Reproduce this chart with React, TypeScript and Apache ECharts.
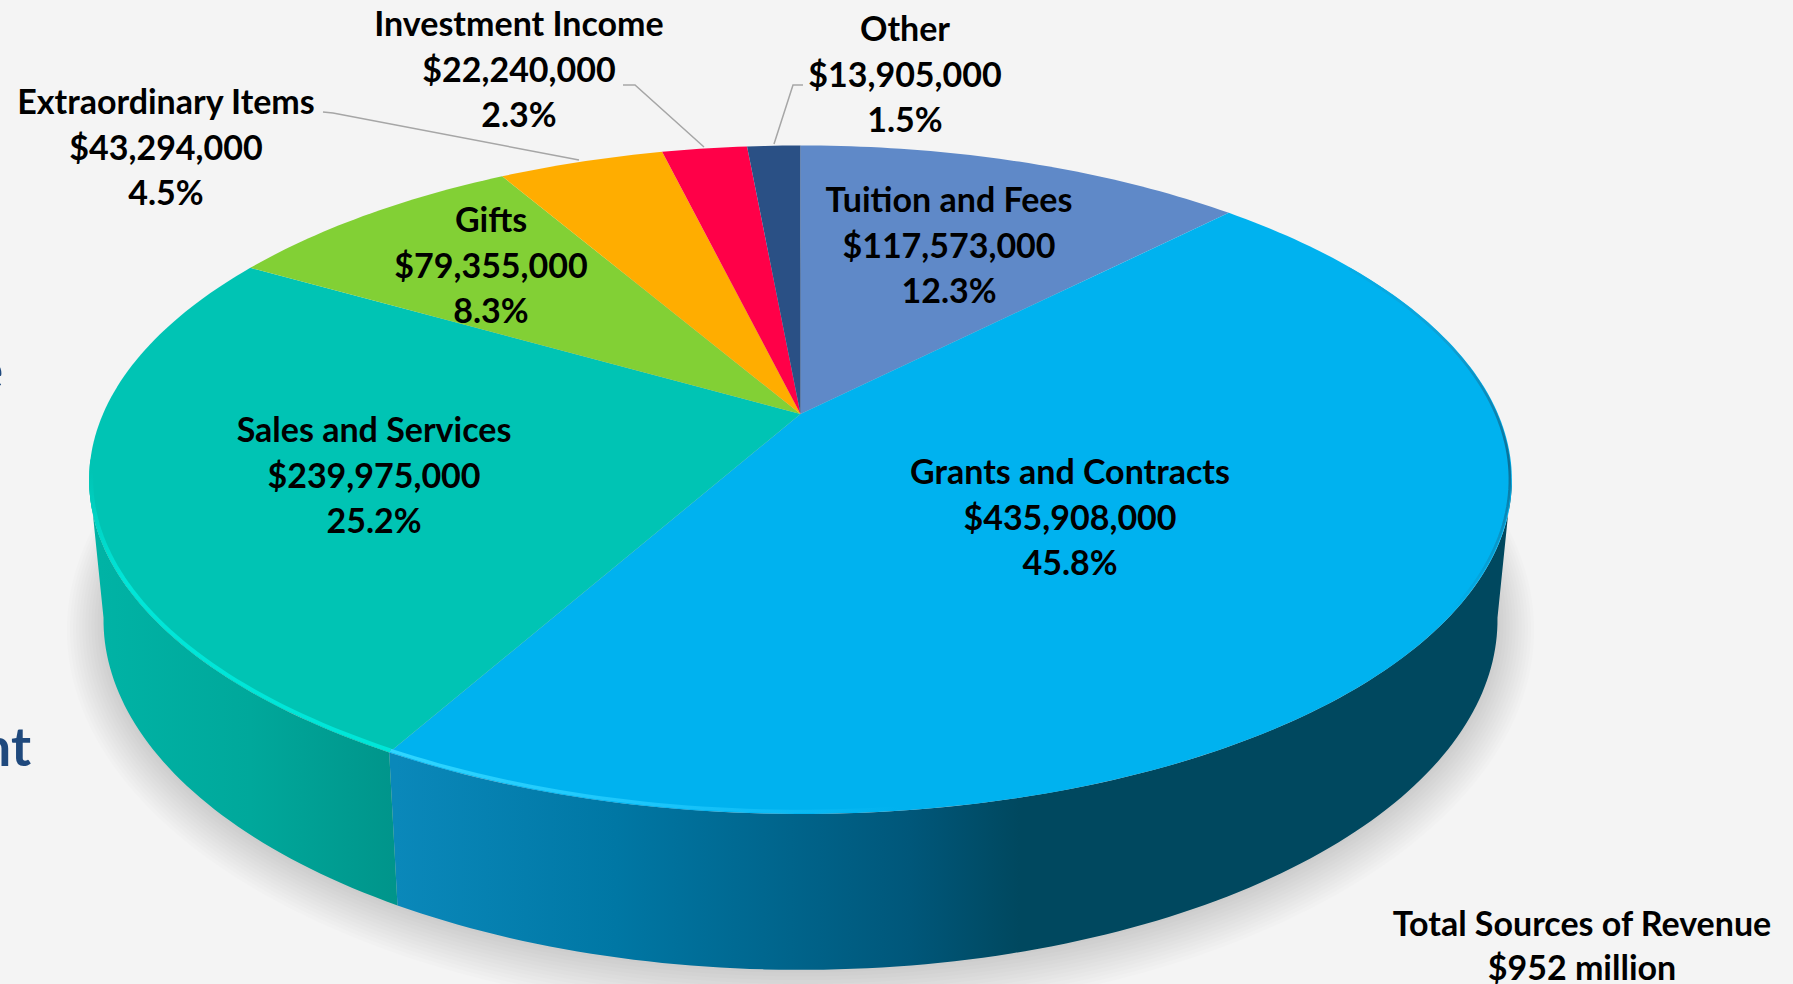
import React, { useEffect, useRef } from "react";
import * as echarts from "echarts";

const categories = ["Tuition and Fees", "Grants and Contracts", "Sales and Services", "Gifts", "Extraordinary Items", "Investment Income", "Other"];
const revenues = [117573000, 435908000, 239975000, 79355000, 43294000, 22240000, 13905000];
const percentLabels = ["12.3%", "45.8%", "25.2%", "8.3%", "4.5%", "2.3%", "1.5%"];
const sliceColors = ["#5f89c8", "#00b2ef", "#00c4b4", "#82d035", "#ffad00", "#ff0048", "#2a5085"];
const totalLines = ["Total Sources of Revenue", "$952 million"];

const labelCenters = [[949, 244], [1070, 516], [374, 474], [491, 264], [166, 146], [519, 68], [905, 73]];
const leaderLines = [
  null, null, null, null,
  [[323, 112], [333, 113], [579, 160]],
  [[623, 85], [635, 85], [704, 147]],
  [[803, 85], [793, 85], [774, 144]],
];

const W = 1793, H = 984;
const K = 0.1966;
const TOP = { cx: 800.5, cy: 414, a: 697.5, b: 321.3 };
const TOP_INSET = { cx: 800.5, cy: 414, a: 695.5, b: 319.3 };
const BASE = { cx: 800.5, cy: 551, a: 683.4, b: 336.5 };
const WALL_FROM = 101, WALL_TO = 259;
const SHADOW_LAYERS = [36, 33, 30, 27, 24, 21, 18, 15, 12, 9, 6, 3, 0];

const total = revenues.reduce((s, v) => s + v, 0);
const boundaries = revenues.reduce<number[]>((acc, v) => [...acc, acc[acc.length - 1] + (v / total) * 360], [0]);

function project(p: typeof TOP, deg: number): number[] {
  const r = (deg * Math.PI) / 180;
  const u = Math.sin(r), v = -Math.cos(r);
  const w = 1 - K * v;
  return [p.cx + (p.a * u) / w, p.cy + (p.b * v) / w];
}
function arc(p: typeof TOP, from: number, to: number): number[][] {
  const n = Math.max(2, Math.ceil(Math.abs(to - from)));
  const out: number[][] = [];
  for (let i = 0; i <= n; i++) out.push(project(p, from + ((to - from) * i) / n));
  return out;
}
const hGrad = (x: number, x2: number, stops: [number, string][]) => ({
  type: "linear", x, y: 0, x2, y2: 0, global: true,
  colorStops: stops.map(([offset, color]) => ({ offset, color })),
});
const vGrad = (y: number, y2: number, stops: [number, string][]) => ({
  type: "linear", x: 0, y, x2: 0, y2, global: true,
  colorStops: stops.map(([offset, color]) => ({ offset, color })),
});

const wallFills: Record<number, any> = {
  1: hGrad(396, 1130, [[0, "#0a88ba"], [0.3, "#0077a4"], [0.7, "#00577a"], [0.85, "#00485f"], [1, "#00485f"]]),
  2: hGrad(100, 400, [[0, "#00b3a5"], [0.5, "#00a89b"], [1, "#00948a"]]),
};

const FONT = "Lato, Carlito, Calibri, sans-serif";
const fontSize = 34;
const lineGap = 45.5;

const usd = (v: number) => "$" + v.toLocaleString("en-US");

export default function App() {
  const ref = useRef<HTMLDivElement>(null);
  useEffect(() => {
    document.body.style.margin = "0";
    document.body.style.background = "#f4f4f4";
    const chart = echarts.init(ref.current!, null, { renderer: "svg" });
    const seriesData = revenues.map((v) => [v]);
    const grantsEnd = boundaries[2];
    const salesStart = boundaries[2];
    const option: any = {
      animation: false,
      backgroundColor: "#f4f4f4",
      series: [
        {
          type: "custom", coordinateSystem: "none", silent: true, data: SHADOW_LAYERS.map((s) => [s]),
          renderItem: (_p: any, api: any) => {
            const s = api.value(0);
            return {
              type: "polygon",
              shape: { points: arc({ cx: BASE.cx, cy: BASE.cy + 3, a: BASE.a + s, b: BASE.b + s }, 0, 360) },
              style: { fill: "rgba(0,0,0,0.0105)" },
            };
          },
        },
        {
          type: "custom", coordinateSystem: "none", silent: true, data: seriesData,
          renderItem: (params: any) => {
            const i = params.dataIndex;
            const from = Math.max(boundaries[i], WALL_FROM), to = Math.min(boundaries[i + 1], WALL_TO);
            if (to <= from) return { type: "group", children: [] };
            return {
              type: "polygon",
              shape: { points: [...arc(TOP, from, to), ...arc(BASE, to, from)] },
              style: { fill: wallFills[i] || sliceColors[i] },
            };
          },
        },
        {
          type: "custom", coordinateSystem: "none", silent: true, data: seriesData,
          renderItem: (params: any) => {
            const i = params.dataIndex;
            return {
              type: "polygon",
              shape: { points: [[TOP.cx, TOP.cy], ...arc(TOP, boundaries[i], boundaries[i + 1])] },
              style: { fill: sliceColors[i] },
            };
          },
        },
        {
          type: "custom", coordinateSystem: "none", silent: true, data: [[total]],
          renderItem: () => ({
            type: "group",
            children: [
              {
                type: "polyline",
                shape: { points: arc(TOP_INSET, 60, 125) },
                style: { fill: "none", lineWidth: 2.5, stroke: vGrad(230, 610, [[0, "#00b2ef"], [0.3, "#0f9fd4"], [0.62, "#0a6f96"], [0.8, "#0a93c4"], [1, "#00b2ef"]]) },
              },
              {
                type: "polyline",
                shape: { points: arc(TOP_INSET, 150, grantsEnd) },
                style: { fill: "none", lineWidth: 3.5, stroke: hGrad(390, 900, [[0, "#30d6ff"], [0.5, "#1cc6fb"], [1, "#00b2ef"]]) },
              },
              {
                type: "polyline",
                shape: { points: arc(TOP_INSET, salesStart, 262) },
                style: { fill: "none", lineWidth: 4, stroke: vGrad(470, 580, [[0, "#00c4b4"], [1, "#00e6d8"]]) },
              },
            ],
          }),
        },
        {
          type: "custom", coordinateSystem: "none", silent: true, data: seriesData,
          renderItem: (params: any) => {
            const i = params.dataIndex;
            const [cx, cy] = labelCenters[i];
            const lines = [categories[i], usd(revenues[i]), percentLabels[i]];
            const children: any[] = lines.map((text, n) => ({
              type: "text",
              style: {
                text, x: cx, y: cy + (n - 1) * lineGap, align: "center", verticalAlign: "middle",
                fontFamily: FONT, fontWeight: "bold", fontSize, fill: "#000",
              },
            }));
            const leader = leaderLines[i];
            if (leader) children.unshift({
              type: "polyline", shape: { points: leader },
              style: { fill: "none", stroke: "#a6a6a6", lineWidth: 1.5 },
            });
            return { type: "group", children };
          },
        },
      ],
      graphic: [
        ...totalLines.map((text, n) => ({
          type: "text", silent: true,
          style: { text, x: 1582, y: 922 + n * 44, align: "center", verticalAlign: "middle", fontFamily: FONT, fontWeight: "bold", fontSize, fill: "#000" },
        })),
        { type: "text", silent: true, style: { text: "nt", x: 31, y: 745, align: "right", verticalAlign: "middle", fontFamily: FONT, fontWeight: "bold", fontSize: 54, fill: "#1f497d" } },
        { type: "text", silent: true, style: { text: "e", x: 3, y: 368, align: "right", verticalAlign: "middle", fontFamily: FONT, fontWeight: "bold", fontSize: 54, fill: "#1f497d" } },
      ],
    };
    chart.setOption(option);
    return () => chart.dispose();
  }, []);
  return <div ref={ref} style={{ position: "absolute", left: 0, top: 0, width: W, height: H }} />;
}
